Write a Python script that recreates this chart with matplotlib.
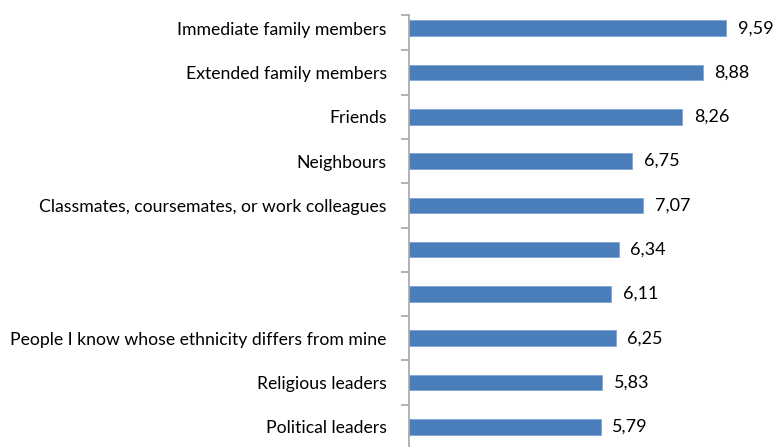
import matplotlib
matplotlib.use('Agg')
import matplotlib.pyplot as plt
import numpy as np

plt.rcParams['font.family'] = ['Lato', 'DejaVu Sans']

# data (top to bottom)
categories = ['Immediate family members', 'Extended family members', 'Friends',
              'Neighbours', 'Classmates, coursemates, or work colleagues',
              '', '', 'People I know whose ethnicity differs from mine',
              'Religious leaders', 'Political leaders']
values = [9.59, 8.88, 8.26, 6.75, 7.07, 6.34, 6.11, 6.25, 5.83, 5.79]

fig = plt.figure(figsize=(7.74, 4.47), dpi=100)
# axes placed in pixels: left 409, top 6, bottom 449
ax = fig.add_axes([409 / 774, -2 / 447, 364 / 774, 443 / 447])

y = np.arange(len(values))
bars = ax.barh(y, values, height=0.35, color='#4a7ebb', edgecolor='#7fa6d6', linewidth=0.6)

for rect, v in zip(bars, values):
    ax.text(rect.get_width() + 0.35, rect.get_y() + rect.get_height() / 2,
            '{:.2f}'.format(v).replace('.', ','), va='center', ha='left', fontsize=13)

ax.set_ylim(len(values) - 0.5, -0.5)
ax.set_xlim(0, 11)

for s in ['top', 'right', 'bottom']:
    ax.spines[s].set_visible(False)
ax.spines['left'].set_color('#a6a6a6')
ax.spines['left'].set_linewidth(1.2)
ax.spines['left'].set_bounds(-0.3, len(values) - 0.5)

ax.set_xticks([])
ax.set_yticks(y)
ax.set_yticklabels(categories, fontsize=12.7)
ax.tick_params(axis='y', which='major', length=0, pad=16)
ax.set_yticks([-0.3] + list(np.arange(0.5, len(values), 1.0)), minor=True)
ax.tick_params(axis='y', which='minor', length=6, color='#a6a6a6', width=1.2)

fig.savefig('out.png', dpi=100)
